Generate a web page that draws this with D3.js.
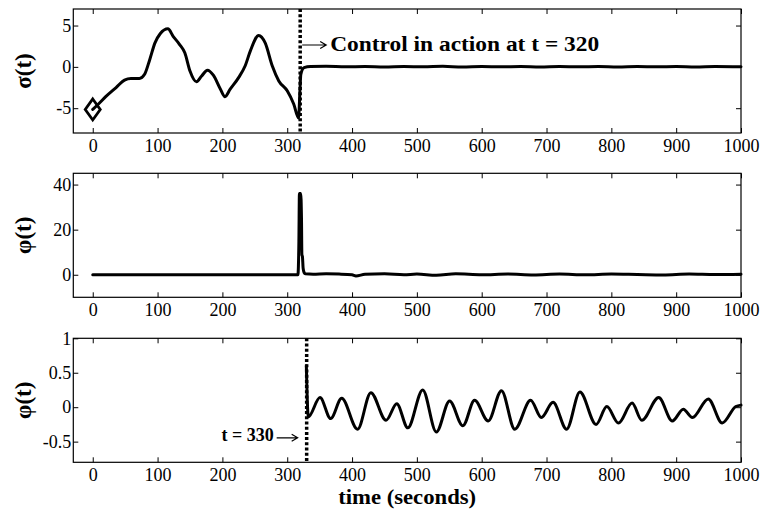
<!DOCTYPE html>
<html lang="en">
    <head>
        <meta charset="utf-8">
        <title>Control signals</title>
        <script type="text/javascript" src="https://d3js.org/d3.v7.min.js"></script>
        <style type="text/css">
          body { margin: 0; background: #fff; }
          .frame { fill: none; stroke: black; stroke-width: 1.2px; }
          .curve { fill: none; stroke: black; stroke-width: 3px; stroke-linejoin: round; stroke-linecap: round; }
          .dotted { stroke: black; stroke-width: 3.5px; stroke-dasharray: 3, 2.2; }
          .tick line { stroke: black; stroke-width: 1px; }
          .tick text { font-family: "Liberation Serif", "Times New Roman", serif; font-size: 18px; fill: black; }
          .lab { font-family: "Liberation Serif", "Times New Roman", serif; font-weight: bold; fill: black; }
        </style>
    </head>
    <body>
        <svg width="771" height="511"></svg>
        <script type="text/javascript">

            const svg = d3.select("svg");

            //tick labels
            const xTicks = [0, 100, 200, 300, 400, 500, 600, 700, 800, 900, 1000];
            const sigmaTicks = [-5, 0, 5];
            const phiSpikeTicks = [0, 20, 40];
            const phiOscTicks = [-0.5, 0, 0.5, 1];

            //sigma(t) - top panel
            const sigmaT = [0, 10, 20, 36, 49, 59, 72, 80, 88, 96, 104, 116, 124, 134, 142, 150, 160, 168, 177, 186, 197, 204, 212, 225, 235, 243, 256, 266, 277, 287, 300, 310, 317.5, 319.7, 321, 326, 336,
                            360, 390, 420, 450, 480, 510, 540, 570, 600, 630, 660, 690, 720, 750, 780, 810, 840, 870, 900, 930, 960, 1000];
            const sigmaV = [-5.15, -4.4, -3.6, -2.5, -1.6, -1.4, -1.4, -0.9, 0.9, 2.9, 4.0, 4.6, 3.7, 2.7, 1.7, -0.5, -1.8, -1.1, -0.4, -1.0, -2.7, -3.6, -2.7, -1.3, 0.1, 1.9, 3.8, 2.9, 0.1, -1.7, -2.9, -4.5, -6.2, -2.7, -0.9, -0.1, 0.04,
                            0.06, 0.0, 0.05, -0.02, 0.05, 0.0, 0.06, -0.03, 0.04, 0.0, 0.05, -0.02, 0.05, 0.0, 0.05, -0.03, 0.04, 0.0, 0.05, -0.02, 0.05, 0.02];

            //phi(t) - middle panel
            const phiSpikeT = [0, 316.5, 318, 318.8, 320.8, 322, 322.6, 323.5, 324.5, 326, 328, 340, 360, 380, 400, 406, 420, 450, 480, 500, 530, 560, 600, 640, 680, 720, 760, 800, 840, 880, 920, 960, 1000];
            const phiSpikeV = [0, 0, 15, 36, 36, 25, 9, 8, 3, 1, 0.4, 0.2, 0.4, 0.3, 0.0, -0.5, 0.2, 0.4, 0.0, 0.3, -0.2, 0.4, 0.0, 0.3, -0.1, 0.3, 0.0, 0.3, 0.1, -0.1, 0.3, 0.1, 0.2];

            //phi(t) - bottom panel
            const phiOscT = [329.5, 332.5, 350.5, 367, 384, 408.5, 429, 452.5, 469, 486, 509, 530, 550.5, 571, 589, 610, 630.5, 651, 675.5, 692, 710, 731, 751.5, 776.5, 793, 811, 832, 847, 873, 894, 911, 925, 949.5, 971, 992, 1000];
            const phiOscV = [0.6, -0.14, 0.14, -0.165, 0.13, -0.32, 0.21, -0.19, 0.05, -0.3, 0.25, -0.36, 0.09, -0.27, 0.1, -0.2, 0.24, -0.32, 0.1, -0.15, 0.07, -0.32, 0.22, -0.25, 0.01, -0.23, 0.06, -0.19, 0.14, -0.2, -0.03, -0.15, 0.12, -0.23, 0.01, 0.03];

            const tControl = 320;
            const tPhi = 330;

            const left = 73.3, right = 741;
            const panelH = 124;
            const panelTops = [9, 173.3, 338.3];

            const x = d3.scaleLinear().domain([-30, 1000]).range([left, right]);
            const plain = d => String(d); //matlab style: 1000, -0.5, 1

            function panel(top, yDomain, yTicks, label) {
                const y = d3.scaleLinear().domain(yDomain).range([top + panelH, top]);
                const g = svg.append("g");

                g.append("g").attr("transform", `translate(0,${top + panelH})`)
                 .call(d3.axisBottom(x).tickValues(xTicks).tickFormat(plain).tickSizeInner(-5).tickSizeOuter(0).tickPadding(6));
                g.append("g").attr("transform", `translate(0,${top})`)
                 .call(d3.axisTop(x).tickValues(xTicks).tickSizeInner(-5).tickSizeOuter(0).tickFormat(""));
                g.append("g").attr("transform", `translate(${left},0)`)
                 .call(d3.axisLeft(y).tickValues(yTicks).tickFormat(plain).tickSizeInner(-5).tickSizeOuter(0).tickPadding(2));
                g.append("g").attr("transform", `translate(${right},0)`)
                 .call(d3.axisRight(y).tickValues(yTicks).tickSizeInner(-5).tickSizeOuter(0).tickFormat(""));
                g.selectAll(".domain").remove();
                g.selectAll("g").attr("font-family", null).attr("font-size", null);

                g.append("rect").attr("class", "frame")
                 .attr("x", left).attr("y", top)
                 .attr("width", right - left).attr("height", panelH);

                g.append("text").attr("class", "lab")
                 .attr("font-size", 23)
                 .attr("text-anchor", "middle")
                 .attr("transform", `translate(31,${top + panelH / 2}) rotate(-90)`)
                 .text(label);
                return {g, y};
            }

            const line = (y) => d3.line().x(d => x(d[0])).y(d => y(d[1])).curve(d3.curveMonotoneX);

            function arrow(g, x0, x1, yy) {
                g.append("path")
                 .attr("d", `M${x0},${yy}H${x1}M${x1 - 6},${yy - 3.5}L${x1},${yy}L${x1 - 6},${yy + 3.5}`)
                 .attr("fill", "none").attr("stroke", "black").attr("stroke-width", 1.2);
            }

            //top panel
            const p1 = panel(panelTops[0], [-8, 7], sigmaTicks, "σ(t)");
            p1.g.append("line").attr("class", "dotted")
                .attr("x1", x(tControl)).attr("x2", x(tControl))
                .attr("y1", panelTops[0]).attr("y2", panelTops[0] + panelH);
            p1.g.append("path").attr("class", "curve")
                .attr("d", line(p1.y)(sigmaT.map((t, i) => [t, sigmaV[i]])));
            const dx = x(sigmaT[0]), dy = p1.y(sigmaV[0]);
            p1.g.append("path")
                .attr("d", `M${dx},${dy - 10.5}L${dx + 7.5},${dy}L${dx},${dy + 10.5}L${dx - 7.5},${dy}Z`)
                .attr("fill", "none").attr("stroke", "black").attr("stroke-width", 2.8);
            arrow(p1.g, x(tControl) + 2, x(tControl) + 26, panelTops[0] + 36);
            p1.g.append("text").attr("class", "lab")
                .attr("font-size", 20)
                .attr("x", x(tControl) + 30).attr("y", panelTops[0] + 42)
                .attr("textLength", 269).attr("lengthAdjust", "spacingAndGlyphs")
                .text("Control in action at t = " + tControl);

            //middle panel
            const p2 = panel(panelTops[1], [-10, 45], phiSpikeTicks, "φ(t)");
            p2.g.append("path").attr("class", "curve")
                .attr("d", line(p2.y)(phiSpikeT.map((t, i) => [t, phiSpikeV[i]])));

            //bottom panel
            const p3 = panel(panelTops[2], [-0.8, 1], phiOscTicks, "φ(t)");
            p3.g.append("line").attr("class", "dotted")
                .attr("x1", x(tPhi)).attr("x2", x(tPhi))
                .attr("y1", panelTops[2]).attr("y2", panelTops[2] + panelH);
            p3.g.append("path").attr("class", "curve")
                .attr("d", line(p3.y)(phiOscT.map((t, i) => [t, phiOscV[i]])));
            arrow(p3.g, x(tPhi) - 30, x(tPhi) - 9, panelTops[2] + 99.5);
            p3.g.append("text").attr("class", "lab")
                .attr("font-size", 18).attr("text-anchor", "end")
                .attr("x", x(tPhi) - 33).attr("y", panelTops[2] + 102.7)
                .text("t = " + tPhi);

            //x label
            svg.append("text").attr("class", "lab")
               .attr("font-size", 20).attr("text-anchor", "middle")
               .attr("x", (left + right) / 2).attr("y", 504)
               .attr("textLength", 138).attr("lengthAdjust", "spacingAndGlyphs")
               .text("time (seconds)");

        </script>
    </body>
</html>
